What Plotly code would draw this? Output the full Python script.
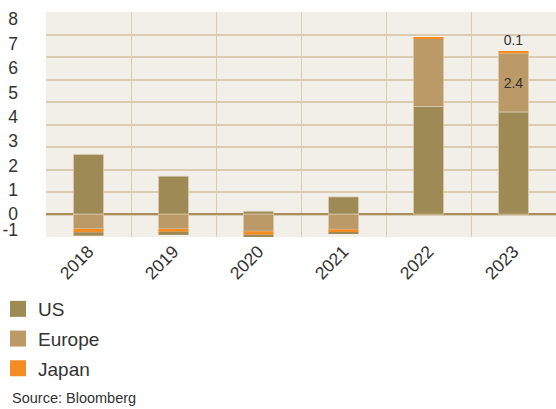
import plotly.graph_objects as go

years = ["2018", "2019", "2020", "2021", "2022", "2023"]
us = [2.45, 1.56, 0.12, 0.71, 4.42, 4.2]
europe = [-0.60, -0.60, -0.70, -0.62, 2.8, 2.4]
japan = [-0.14, -0.12, -0.14, -0.11, 0.05, 0.1]
other = [-0.14, -0.13, -0.15, -0.06, None, None]
europe_text = ["", "", "", "", "", "2.4"]
japan_text = ["", "", "", "", "", "0.1"]

y_tick_text = ["-1", "0", "1", "2", "3", "4", "5", "6", "7", "8"]
y_tick_vals = [-0.64, 0, 1, 2, 3, 4, 5, 6, 7, 8]

c_us = "#9E8A55"
c_eu = "#BC9A68"
c_jp = "#F28C23"
outline = dict(color="rgba(218,204,176,0.75)", width=1)
font = "Liberation Sans, Arial, sans-serif"

L, R, T, B = 46, 0, 12, 172
W, H = 556, 409
pw, ph = W - L - R, H - T - B

fig = go.Figure()
fig.add_bar(x=years, y=us, marker=dict(color=c_us, line=outline), showlegend=False, name="US")
fig.add_bar(x=years, y=europe, marker=dict(color=c_eu, line=outline), showlegend=False, name="Europe",
            text=europe_text, textposition="inside", insidetextanchor="middle", textangle=0,
            textfont=dict(size=14, color="#333333", family=font))
fig.add_bar(x=years, y=japan, marker=dict(color=c_jp, line=dict(width=0)), showlegend=False, name="Japan",
            text=japan_text, textposition="outside", cliponaxis=False, textangle=0,
            textfont=dict(size=14, color="#333333", family=font))
fig.add_bar(x=years, y=other, marker=dict(color=c_us, line=dict(width=0)), showlegend=False, name="Other")

for nm, col in [("US", c_us), ("Europe", c_eu), ("Japan", c_jp)]:
    fig.add_scatter(x=[None], y=[None], mode="markers", name=nm, legendgroup=nm,
                    marker=dict(symbol="square", size=16, color=col))

fig.update_layout(
    width=W, height=H,
    margin=dict(l=L, r=R, t=T, b=B, autoexpand=False),
    barmode="relative", bargap=0.647,
    paper_bgcolor="white", plot_bgcolor="#F2EEE8",
    font=dict(family=font, color="#333333"),
    xaxis=dict(type="category", tickson="boundaries", showgrid=True, gridcolor="#D9CCB2",
               gridwidth=1, ticks="", tickangle=-45, tickfont=dict(size=17.5, color="#333333"),
               showline=False, zeroline=False, automargin=False),
    yaxis=dict(range=[-0.934, 8.30], tickvals=y_tick_vals, ticktext=y_tick_text,
               showgrid=False, zeroline=True, zerolinecolor="#A88F5E", zerolinewidth=1.5,
               tickfont=dict(size=17.5, color="#333333"), ticklabelstandoff=27, showline=False,
               automargin=False),
    yaxis2=dict(overlaying="y", range=[-1, 9], dtick=1, showgrid=True, gridcolor="#D9CCB2",
                gridwidth=1.5, showticklabels=False, zeroline=False, side="left", automargin=False),
    legend=dict(xref="paper", yref="container", x=(-2 - L) / pw, y=1 - 290 / H,
                xanchor="left", yanchor="top", font=dict(size=19, color="#333333"),
                itemsizing="trace", tracegroupgap=2, bgcolor="rgba(0,0,0,0)"),
    annotations=[dict(text="Source: Bloomberg", xref="paper", yref="paper",
                      x=(10 - L) / pw, y=(T + ph - 398) / ph, xanchor="left", yanchor="middle",
                      showarrow=False, font=dict(size=14.5, color="#333333", family=font))],
)
# make y2 axis exist with an invisible trace
fig.add_scatter(x=[years[0]], y=[None], yaxis="y2", showlegend=False, hoverinfo="skip")

fig.write_html("out.html")
